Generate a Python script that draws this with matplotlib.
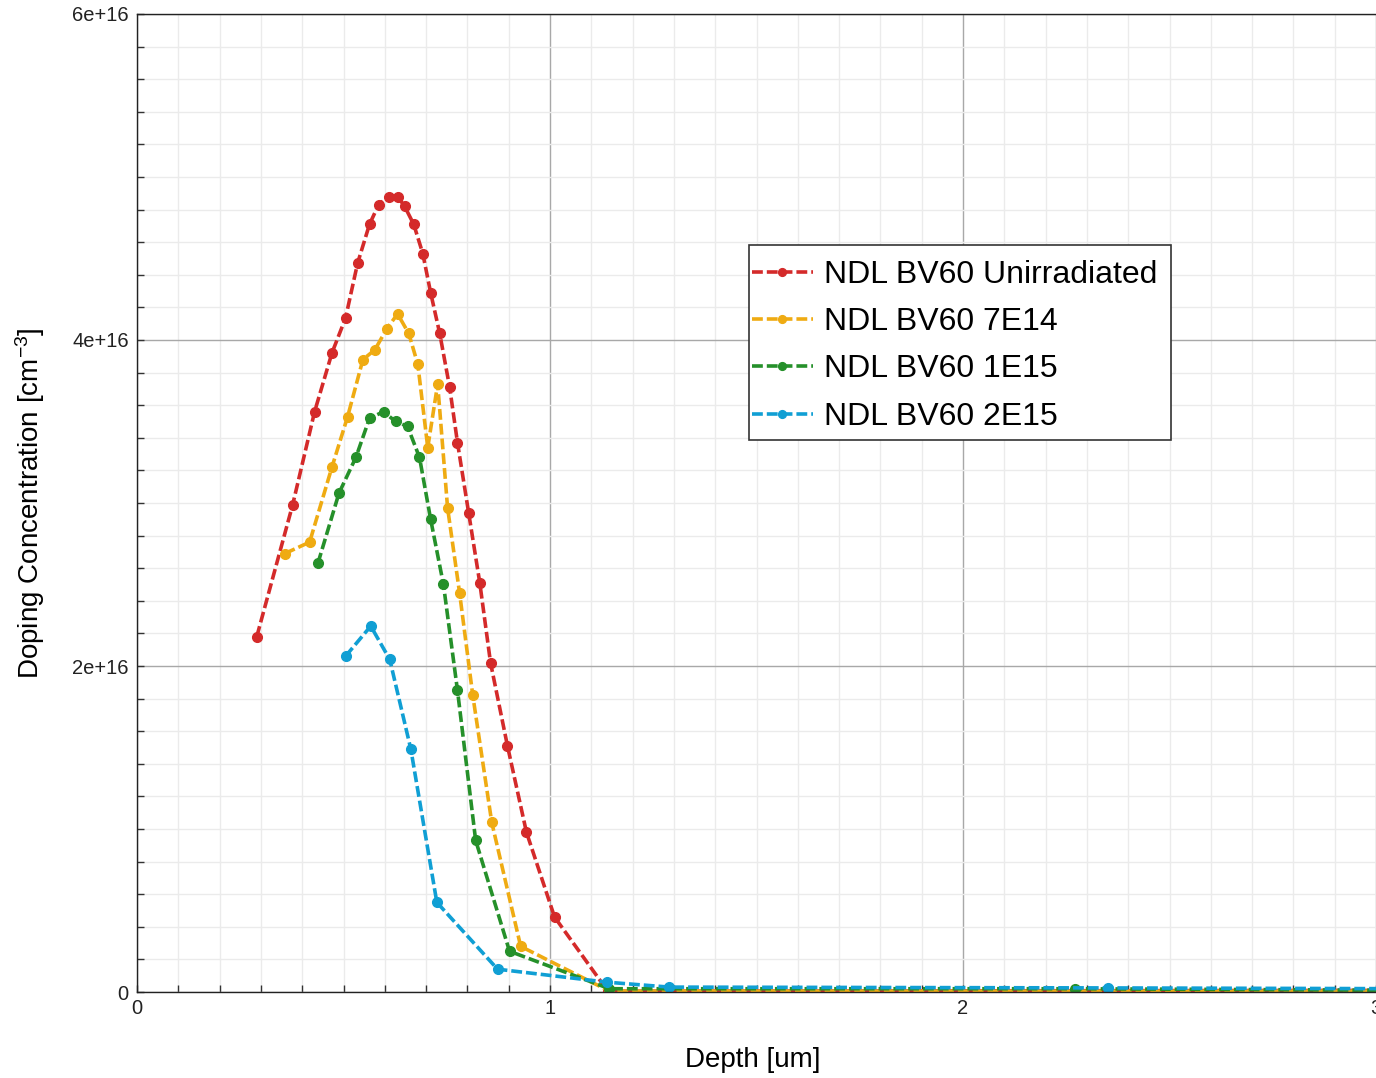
import numpy as np
import matplotlib
matplotlib.use("Agg")
import matplotlib.pyplot as plt
from matplotlib.ticker import MultipleLocator, FuncFormatter
from matplotlib.patches import Rectangle

plt.rcParams['font.family'] = ['Liberation Sans', 'DejaVu Sans']
plt.rcParams['mathtext.fontset'] = 'custom'
plt.rcParams['mathtext.rm'] = 'Liberation Sans'
plt.rcParams['mathtext.it'] = 'Liberation Sans:italic'

# depth [um] and doping concentration [cm^-3]
depth_unirr = [0.290, 0.377, 0.430, 0.472, 0.505, 0.534, 0.563, 0.585, 0.609, 0.631,
               0.648, 0.670, 0.692, 0.711, 0.733, 0.757, 0.776, 0.803, 0.830, 0.856,
               0.897, 0.943, 1.011, 1.140, 3.100]
conc_unirr = [2.18e16, 2.99e16, 3.56e16, 3.92e16, 4.135e16, 4.47e16, 4.71e16, 4.83e16, 4.88e16, 4.88e16,
              4.82e16, 4.71e16, 4.53e16, 4.29e16, 4.04e16, 3.71e16, 3.37e16, 2.94e16, 2.51e16, 2.02e16,
              1.51e16, 0.98e16, 0.46e16, 0.005e16, 0.01e16]

depth_7e14 = [0.358, 0.418, 0.472, 0.510, 0.547, 0.576, 0.605, 0.631, 0.658, 0.680,
              0.704, 0.728, 0.752, 0.781, 0.813, 0.859, 0.929, 1.144, 3.100]
conc_7e14 = [2.69e16, 2.76e16, 3.22e16, 3.53e16, 3.88e16, 3.94e16, 4.07e16, 4.16e16, 4.04e16, 3.85e16,
             3.34e16, 3.73e16, 2.97e16, 2.45e16, 1.82e16, 1.04e16, 0.28e16, 0.005e16, 0.005e16]

depth_1e15 = [0.438, 0.489, 0.530, 0.563, 0.597, 0.626, 0.655, 0.684, 0.711, 0.742,
              0.776, 0.820, 0.902, 1.144, 2.270, 3.100]
conc_1e15 = [2.63e16, 3.06e16, 3.28e16, 3.52e16, 3.56e16, 3.50e16, 3.47e16, 3.28e16, 2.90e16, 2.50e16,
             1.85e16, 0.93e16, 0.25e16, 0.02e16, 0.02e16, 0.01e16]

depth_2e15 = [0.505, 0.566, 0.612, 0.663, 0.726, 0.873, 1.139, 1.289, 2.350, 3.100]
conc_2e15 = [2.06e16, 2.245e16, 2.04e16, 1.49e16, 0.55e16, 0.14e16, 0.06e16, 0.03e16, 0.025e16, 0.02e16]

series = [
    (depth_unirr, conc_unirr, '#d42a2a', 'NDL BV60 Unirradiated'),
    (depth_7e14, conc_7e14, '#efab12', 'NDL BV60 7E14'),
    (depth_1e15, conc_1e15, '#25902a', 'NDL BV60 1E15'),
    (depth_2e15, conc_2e15, '#109fd4', 'NDL BV60 2E15'),
]

fig = plt.figure(figsize=(13.76, 10.78), dpi=100)
ax = fig.add_axes([137 / 1376, 86 / 1078, 1239 / 1376, 978 / 1078])

for x, y, col, lab in series:
    ax.plot(x, y, color=col, lw=2.6, ls=(0, (3.0, 1.1)), marker='o', ms=7,
            label=lab)

ax.set_xlim(0, 3)
ax.set_ylim(0, 6e16)

# grid: major gray, minor light
ax.xaxis.set_major_locator(MultipleLocator(1))
ax.xaxis.set_minor_locator(MultipleLocator(0.1))
ax.yaxis.set_major_locator(MultipleLocator(2e16))
ax.yaxis.set_minor_locator(MultipleLocator(2e15))
ax.grid(which='major', color='#a8a8a8', lw=1.0)
ax.grid(which='minor', color='#ebebeb', lw=1.0)
ax.set_axisbelow(True)

def yfmt(v, pos):
    if v == 0:
        return '0'
    return '%de+16' % round(v / 1e16)

ax.yaxis.set_major_formatter(FuncFormatter(yfmt))
ax.tick_params(which='both', direction='in', length=5, width=1, color='#333333',
               labelsize=14.5, labelcolor='#222222')
ax.tick_params(axis='x', pad=5)
ax.tick_params(axis='y', pad=6)

for s in ['left', 'bottom', 'top']:
    ax.spines[s].set_color('#222222')
    ax.spines[s].set_linewidth(1.0)
ax.spines['right'].set_visible(False)

ax.set_xlabel('Depth [um]', fontsize=20, va='center')
ax.set_ylabel('Doping Concentration [cm$^{-3}$]', fontsize=20, va='center')
ax.xaxis.set_label_coords(0.497, -0.0695)
ax.yaxis.set_label_coords(-0.0864, 0.5)

# legend frame drawn separately so the padding can differ per side
ax.add_patch(Rectangle((0.494, 0.5644), 0.3406, 0.1994, transform=ax.transAxes,
                       facecolor='white', edgecolor='#333333', lw=1.2, zorder=4))
leg = ax.legend(loc='upper left', bbox_to_anchor=(0.4964, 0.7485), borderaxespad=0,
                fontsize=23, frameon=False, handlelength=1.9, handletextpad=0.35,
                labelspacing=0.54, borderpad=0, markerscale=0.8)
leg.set_zorder(5)

fig.savefig('out.png', dpi=100)
